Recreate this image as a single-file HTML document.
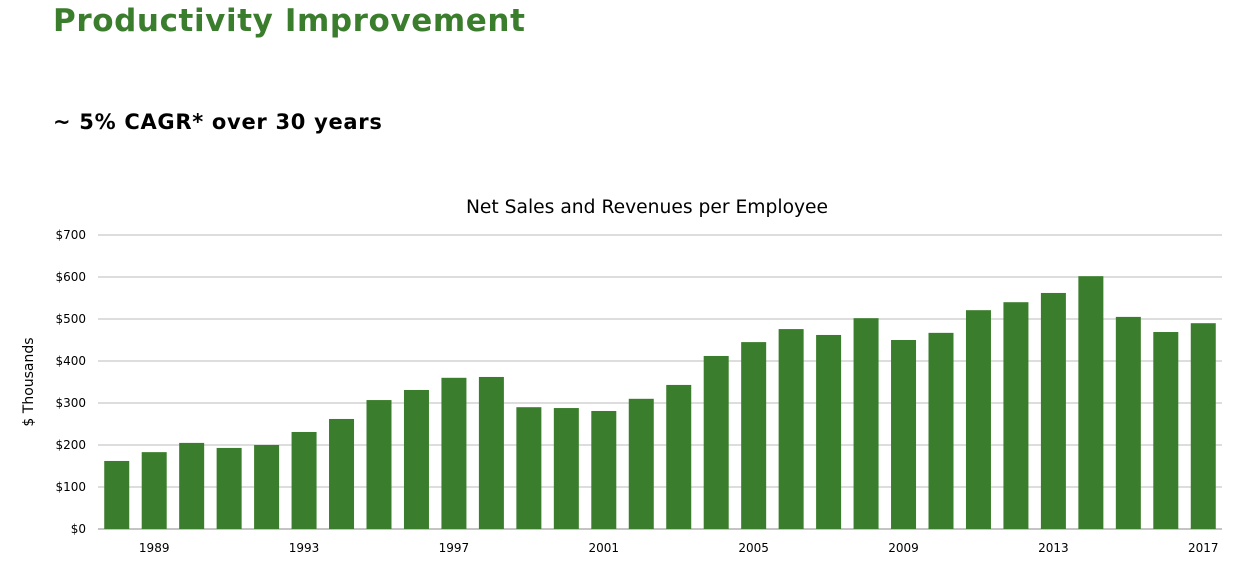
<!DOCTYPE html>
<html><head><meta charset="utf-8">
<style>
body{margin:0;width:1238px;height:570px;background:#fff;overflow:hidden;font-family:"DejaVu Sans","Liberation Sans",sans-serif;}
#title{position:absolute;left:53px;top:3px;font-size:31px;letter-spacing:0.6px;font-weight:bold;color:#3a7d2c;}
#sub{position:absolute;left:53px;top:110px;font-size:21px;letter-spacing:0.7px;font-weight:bold;color:#000;}
svg{position:absolute;left:0;top:0;}
</style></head>
<body>
<div id="title">Productivity Improvement</div>
<div id="sub">~ 5% CAGR* over 30 years</div>
<svg id="chart" width="1238" height="570"></svg>
<script>
const years=[1988,1989,1990,1991,1992,1993,1994,1995,1996,1997,1998,1999,2000,2001,2002,2003,2004,2005,2006,2007,2008,2009,2010,2011,2012,2013,2014,2015,2016,2017];
const values=[162,183,205,193,200,231,262,307,331,360,362,290,288,281,310,343,412,445,476,462,502,450,467,521,540,562,602,505,469,490];
const yTicks=[0,100,200,300,400,500,600,700];
const xLabels=[1989,1993,1997,2001,2005,2009,2013,2017];
const NS="http://www.w3.org/2000/svg";
const svg=document.getElementById('chart');
const x0=98,x1=1222,y0=529,yTop=235;
const step=(x1-x0)/years.length;
const xS=y=>x0+(years.indexOf(y)+0.5)*step;
const yS=v=>y0-(v/700)*(y0-yTop);
function mk(t,a){const e=document.createElementNS(NS,t);for(const k in a)e.setAttribute(k,a[k]);svg.appendChild(e);return e;}
yTicks.forEach(t=>{
 const g=mk('line',{x1:x0,x2:x1,y1:yS(t),y2:yS(t),stroke:t===0?'#888':'#bbb','stroke-width':1});
 
 
 const l=mk('text',{x:86,y:yS(t)+4,'text-anchor':'end','font-size':12,fill:'#000'});
 l.textContent='$'+t;
 
 
});
years.forEach((y,i)=>{
 const r=mk('rect',{x:xS(y)-12.5,y:yS(values[i]),width:25,height:y0-yS(values[i]),fill:'#3a7d2c'});
 
 
});
xLabels.forEach(y=>{
 const l=mk('text',{x:xS(y),y:552,'text-anchor':'middle','font-size':12,fill:'#000'});
 l.textContent=y;
 
 
});
const ct=mk('text',{x:647,y:213,'text-anchor':'middle','font-size':18.7,fill:'#000'});
ct.textContent='Net Sales and Revenues per Employee';


const yt=mk('text',{x:33,y:382,'text-anchor':'middle','font-size':14,fill:'#000',transform:'rotate(-90 33 382)'});
yt.textContent='$ Thousands';


</script>
</body></html>
